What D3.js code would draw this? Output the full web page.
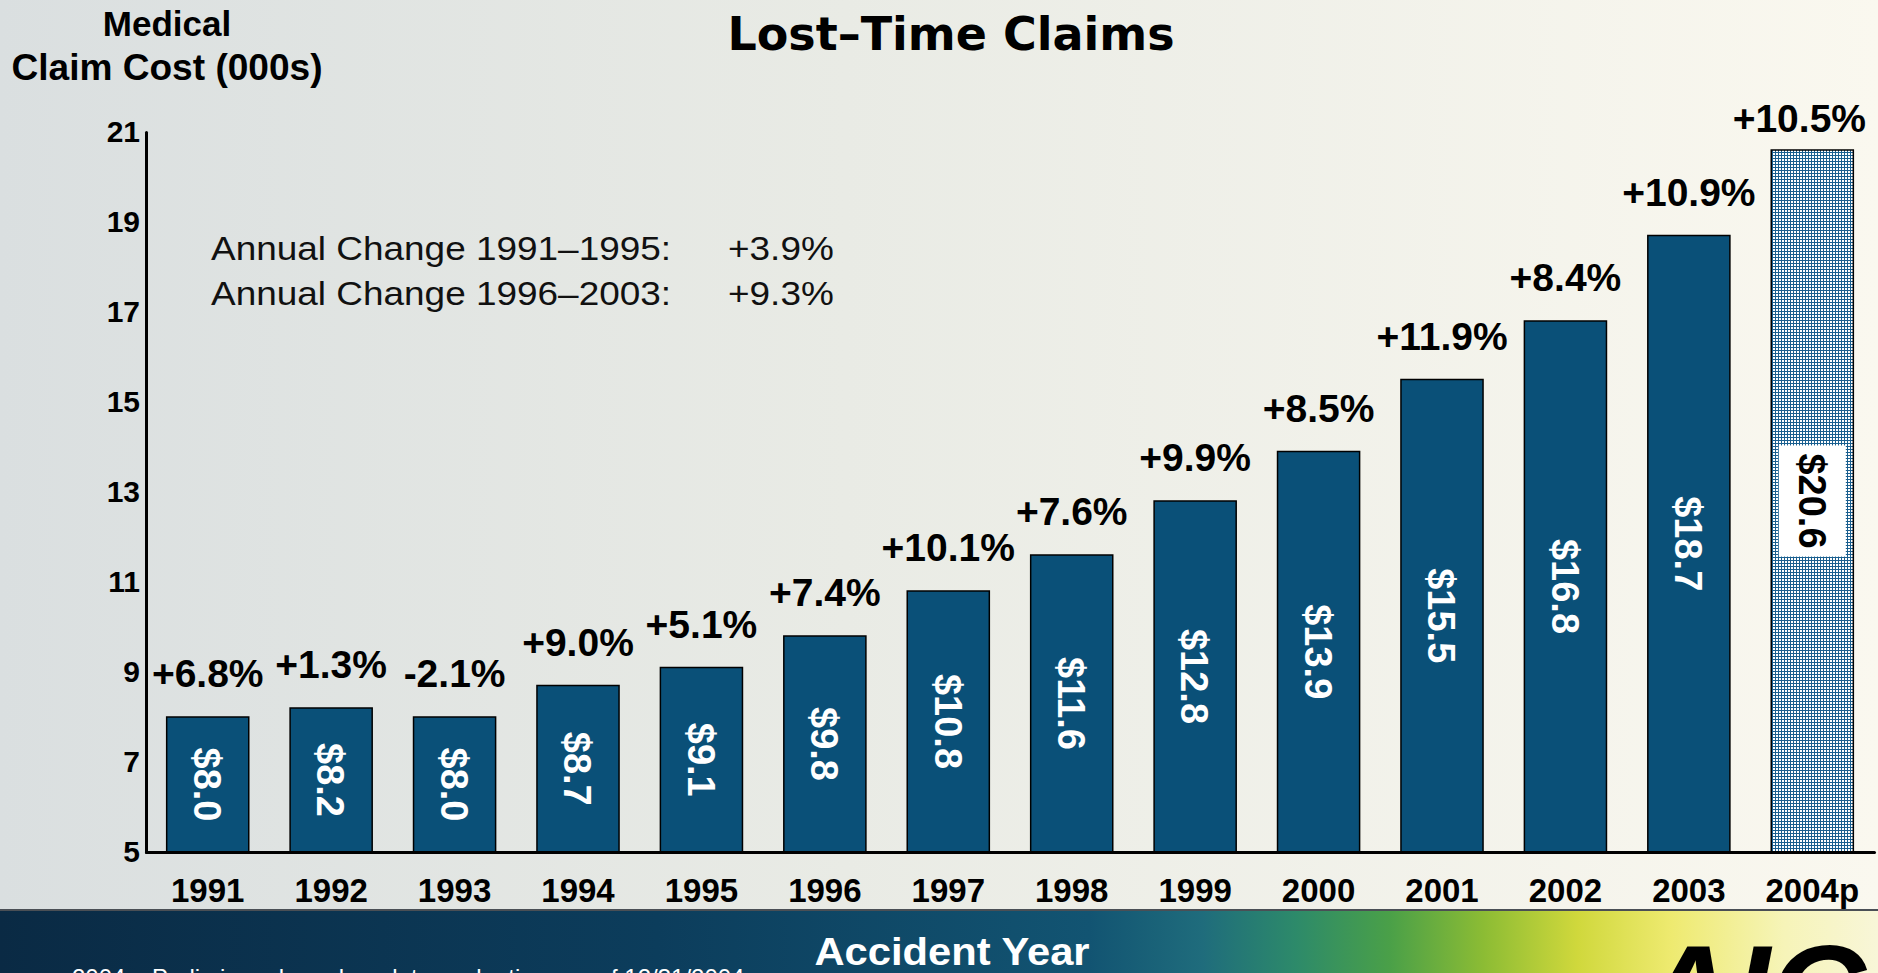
<!DOCTYPE html>
<html>
<head>
<meta charset="utf-8">
<script src="https://cdnjs.cloudflare.com/ajax/libs/d3/7.8.5/d3.min.js"></script>
<style>
  body { margin: 0; background: #e8eae5; overflow: hidden; }
  svg { display: block; }
  text { font-family: "Liberation Sans", Arial, sans-serif; }
  .axis path { stroke: #000; stroke-width: 3; }
  .axis text { font-family: "Liberation Sans", Arial, sans-serif; font-weight: bold; fill: #000; }
</style>
</head>
<body>
<div id="graph"></div>
<script>
// chart values
var years = ["1991", "1992", "1993", "1994", "1995", "1996", "1997",
             "1998", "1999", "2000", "2001", "2002", "2003", "2004p"];
var cost = [8.0, 8.2, 8.0, 8.7, 9.1, 9.8, 10.8, 11.6, 12.8, 13.9, 15.5, 16.8, 18.7, 20.6];
var change = ["+6.8%", "+1.3%", "-2.1%", "+9.0%", "+5.1%", "+7.4%", "+10.1%",
              "+7.6%", "+9.9%", "+8.5%", "+11.9%", "+8.4%", "+10.9%", "+10.5%"];
var yTicks = [5, 7, 9, 11, 13, 15, 17, 19, 21];
var noteLabels = ["Annual Change 1991\u20131995:", "Annual Change 1996\u20132003:"];
var noteValues = ["+3.9%", "+9.3%"];

var data = years.map(function(d, i) {
  return {year: d, cost: cost[i], change: change[i]};
});

var width = 1878, height = 973;
var margin = {top: 132, right: 4, bottom: 121, left: 146};

var svg = d3.select("#graph").append("svg")
    .attr("width", width)
    .attr("height", height);

var defs = svg.append("defs");

// page background
var bg = defs.append("linearGradient").attr("id", "bg");
bg.append("stop").attr("offset", "0").attr("stop-color", "#dadfe0");
bg.append("stop").attr("offset", "0.45").attr("stop-color", "#e9ebe5");
bg.append("stop").attr("offset", "1").attr("stop-color", "#faf8ef");

// footer band
var band = defs.append("linearGradient").attr("id", "band");
[["0", "#0a2a44"], ["0.35", "#0c3d5c"], ["0.58", "#125472"], ["0.64", "#1f6c7c"],
 ["0.69", "#2d8a6a"], ["0.74", "#4aa048"], ["0.79", "#8cbc34"], ["0.84", "#d0d83c"],
 ["0.89", "#eeea70"], ["0.95", "#f6f4b8"], ["1", "#f8f6d8"]].forEach(function(s) {
  band.append("stop").attr("offset", s[0]).attr("stop-color", s[1]);
});

// projected year fill
var pat = defs.append("pattern").attr("id", "dots")
    .attr("width", 3).attr("height", 3)
    .attr("patternUnits", "userSpaceOnUse");
pat.append("rect").attr("width", 3).attr("height", 3).attr("fill", "#1a5f8f");
pat.append("rect").attr("width", 2).attr("height", 2).attr("fill", "#ffffff");

svg.append("rect").attr("width", width).attr("height", 910).attr("fill", "url(#bg)");
svg.append("rect").attr("y", 910).attr("width", width).attr("height", height - 910)
    .attr("fill", "url(#band)");
svg.append("line").attr("x1", 0).attr("x2", width).attr("y1", 910).attr("y2", 910)
    .attr("stroke", "#4a4f55").attr("stroke-width", 2);

// scales
var xScale = d3.scaleBand()
    .domain(years)
    .range([margin.left, width - margin.right])
    .paddingInner(0.335)
    .paddingOuter(0.1675);

var yScale = d3.scaleLinear()
    .domain([5, 21])
    .range([height - margin.bottom, margin.top]);

// bars
svg.selectAll(".bar")
    .data(data)
    .enter().append("rect")
    .attr("class", "bar")
    .attr("x", function(d) { return xScale(d.year); })
    .attr("y", function(d) { return yScale(d.cost); })
    .attr("width", xScale.bandwidth())
    .attr("height", function(d) { return yScale(5) - yScale(d.cost); })
    .attr("fill", function(d) { return d.year.indexOf("p") > 0 ? "url(#dots)" : "#0a5078"; })
    .attr("stroke", "#000")
    .attr("stroke-width", 1.5);

// value labels inside the bars
var inner = svg.selectAll(".val")
    .data(data)
    .enter().append("g")
    .attr("class", "val")
    .attr("transform", function(d) {
      var cx = xScale(d.year) + xScale.bandwidth() / 2;
      var cy = (yScale(d.cost) + yScale(5)) / 2;
      return "translate(" + cx + "," + cy + ") rotate(90)";
    });

inner.append("text")
    .attr("text-anchor", "middle")
    .attr("dy", "0.36em")
    .style("font-size", "38px")
    .style("font-weight", "bold")
    .style("fill", function(d) { return d.year.indexOf("p") > 0 ? "#000" : "#fff"; })
    .text(function(d) { return "$" + d3.format(".1f")(d.cost); });

// white box behind the projected value
inner.filter(function(d) { return d.year.indexOf("p") > 0; })
    .insert("rect", "text")
    .each(function() {
      var w = this.parentNode.querySelector("text").getComputedTextLength() + 16;
      d3.select(this).attr("x", -w / 2).attr("y", -33.5).attr("width", w).attr("height", 67);
    })
    .attr("fill", "#fff");

// percent change above the bars
svg.selectAll(".chg")
    .data(data)
    .enter().append("text")
    .attr("class", "chg")
    .attr("text-anchor", "middle")
    .attr("x", function(d) { return xScale(d.year) + xScale.bandwidth() / 2; })
    .attr("y", function(d) { return Math.max(yScale(d.cost) - 30, 132); })
    .style("font-size", "39px")
    .style("font-weight", "bold")
    .style("fill", "#000")
    .text(function(d) { return d.change; })
    .each(function() {
      var w = this.getComputedTextLength();
      var x = +this.getAttribute("x");
      if (x + w / 2 > 1866) d3.select(this).attr("x", 1866 - w / 2);
    });

// axes
svg.append("g")
    .attr("class", "x axis")
    .attr("transform", "translate(0," + yScale(5) + ")")
    .call(d3.axisBottom(xScale).tickSize(0).tickSizeOuter(0).tickPadding(27))
    .selectAll("text").style("font-size", "33px");

svg.append("g")
    .attr("class", "y axis")
    .attr("transform", "translate(" + margin.left + ",0)")
    .call(d3.axisLeft(yScale).tickValues(yTicks).tickSize(0).tickSizeOuter(0).tickPadding(6))
    .selectAll("text").style("font-size", "30px");

svg.selectAll(".axis .domain").attr("stroke-linecap", "round");

// title and axis titles
svg.append("text")
    .attr("x", 951).attr("y", 50)
    .attr("text-anchor", "middle")
    .style("font-family", "'DejaVu Sans', Verdana, sans-serif")
    .style("font-size", "46px")
    .style("font-weight", "bold")
    .text("Lost\u2013Time Claims");

svg.append("text")
    .attr("transform", "translate(167,36)")
    .attr("text-anchor", "middle")
    .style("font-size", "35px")
    .style("font-weight", "bold")
    .text("Medical");

svg.append("text")
    .attr("transform", "translate(167,80) scale(1.03,1)")
    .attr("text-anchor", "middle")
    .style("font-size", "36px")
    .style("font-weight", "bold")
    .text("Claim Cost (000s)");

svg.append("text")
    .attr("transform", "translate(952,965) scale(1.07,1)")
    .attr("text-anchor", "middle")
    .style("font-size", "39px")
    .style("font-weight", "bold")
    .style("fill", "#fff")
    .text("Accident Year");

// annual change note
noteLabels.forEach(function(t, i) {
  svg.append("text")
      .attr("transform", "translate(211," + (260 + i * 45) + ") scale(1.12,1)")
      .style("font-size", "33px")
      .style("fill", "#111")
      .text(t);
  svg.append("text")
      .attr("transform", "translate(728," + (260 + i * 45) + ") scale(1.12,1)")
      .style("font-size", "33px")
      .style("fill", "#111")
      .text(noteValues[i]);
});

// footnote and logo, cut off by the bottom of the slide
svg.append("text")
    .attr("x", 72).attr("y", 986)
    .style("font-size", "24px")
    .style("fill", "#fff")
    .text("2004 \u2013 Preliminary based on data evaluations as of 12/31/2004");

svg.append("text")
    .attr("x", 1640).attr("y", 1036)
    .style("font-size", "130px")
    .style("font-weight", "bold")
    .style("font-style", "italic")
    .style("fill", "#000")
    .text("AIG");
</script>
</body>
</html>
